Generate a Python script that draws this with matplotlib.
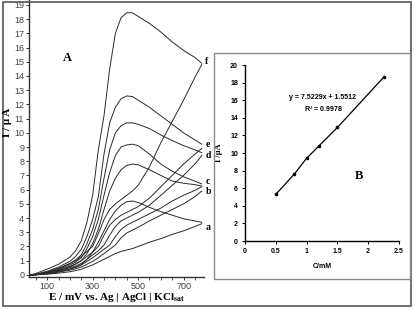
import numpy as np
import matplotlib
matplotlib.use("Agg")
import matplotlib.pyplot as plt
from matplotlib.patches import Rectangle

plt.rcParams['mathtext.fontset'] = 'custom'
plt.rcParams['mathtext.rm'] = 'Liberation Serif:bold'
plt.rcParams['mathtext.it'] = 'Liberation Serif:bold'
plt.rcParams['mathtext.bf'] = 'Liberation Serif:bold'

# panel A: potential (mV) and currents (uA), peaked curves and rising curves a-f
E = [25, 50, 100, 150, 200, 225, 250, 275, 300, 325, 350, 375, 400, 425, 450, 475, 500,
     550, 600, 650, 700, 750, 780]
peak_f = [0, 0.1, 0.4, 0.75, 1.25, 1.7, 2.4, 3.7, 5.6, 8.8, 11.2, 14.5, 17.0, 18.1, 18.45, 18.45, 18.2, 17.7, 17.1, 16.4, 15.8, 15.3, 14.9]
peak_e = [0, 0.05, 0.25, 0.55, 0.95, 1.3, 1.8, 2.7, 3.9, 5.5, 8.5, 10.7, 11.8, 12.4, 12.6, 12.55, 12.3, 11.8, 11.2, 10.6, 10.0, 9.5, 9.2]
peak_d = [0, 0.03, 0.2, 0.45, 0.8, 1.05, 1.4, 2.2, 3.2, 4.6, 6.8, 8.8, 10.0, 10.5, 10.7, 10.7, 10.6, 10.3, 9.85, 9.45, 9.1, 8.8, 8.6]
peak_c = [0, 0.02, 0.15, 0.4, 0.7, 0.9, 1.2, 1.85, 2.7, 3.9, 5.6, 7.2, 8.4, 9.0, 9.15, 9.2, 9.1, 8.5, 7.8, 7.3, 6.9, 6.6, 6.4]
peak_b = [0, 0.02, 0.12, 0.3, 0.55, 0.75, 1.0, 1.5, 2.2, 3.2, 4.6, 5.9, 6.8, 7.4, 7.7, 7.8, 7.75, 7.4, 7.0, 6.6, 6.45, 6.35, 6.25]
peak_a = [0, 0.01, 0.08, 0.2, 0.4, 0.52, 0.7, 1.1, 1.6, 2.3, 3.1, 3.9, 4.5, 4.9, 5.15, 5.2, 5.1, 4.75, 4.45, 4.2, 3.95, 3.8, 3.7]

rise_f = [0, 0.03, 0.2, 0.45, 0.8, 1.0, 1.3, 1.65, 2.0, 2.9, 3.9, 4.6, 5.0, 5.3, 5.6, 5.9, 6.3, 7.6, 9.3, 10.8, 12.3, 13.9, 14.8]
rise_e = [0, 0.02, 0.15, 0.35, 0.6, 0.78, 1.0, 1.3, 1.6, 2.0, 2.8, 3.5, 3.9, 4.2, 4.4, 4.6, 4.8, 5.4, 6.2, 7.0, 7.8, 8.5, 8.9]
rise_d = [0, 0.02, 0.12, 0.3, 0.5, 0.62, 0.8, 1.1, 1.4, 1.7, 2.1, 2.8, 3.4, 3.8, 4.0, 4.2, 4.4, 4.9, 5.6, 6.3, 7.0, 7.8, 8.4]
rise_c = [0, 0.01, 0.1, 0.25, 0.42, 0.55, 0.7, 0.95, 1.2, 1.5, 1.8, 2.1, 2.7, 3.2, 3.5, 3.7, 3.9, 4.3, 4.7, 5.2, 5.6, 5.95, 6.2]
rise_b = [0, 0.01, 0.08, 0.2, 0.33, 0.43, 0.55, 0.75, 0.95, 1.2, 1.5, 1.8, 2.1, 2.6, 2.95, 3.15, 3.35, 3.8, 4.2, 4.6, 5.0, 5.5, 5.9]
rise_a = [0, 0.0, 0.05, 0.12, 0.22, 0.3, 0.4, 0.55, 0.7, 0.9, 1.1, 1.3, 1.5, 1.65, 1.75, 1.85, 2.0, 2.3, 2.55, 2.85, 3.1, 3.4, 3.6]

curve_labels = ["a", "b", "c", "d", "e", "f"]
label_y = [3.3, 5.85, 6.6, 8.4, 9.15, 15.0]

# panel B: calibration
conc = [0.5, 0.8, 1.0, 1.2, 1.5, 2.25]
current = [5.3, 7.6, 9.4, 10.8, 12.9, 18.6]

W, H = 415, 310
fig = plt.figure(figsize=(W / 100, H / 100), dpi=100)
fig.patch.set_facecolor("white")

def box(x0, y0, x1, y1):
    # pixel box -> figure fraction
    return [x0 / W, (H - y1) / H, (x1 - x0) / W, (y1 - y0) / H]

fig.add_artist(Rectangle((3 / W, 4 / H), 408 / W, 304 / H, transform=fig.transFigure,
                         fill=False, edgecolor="#555555", lw=1.2))

ax = fig.add_axes(box(29, 0, 204, 277))
line_col = "#2a2a2a"
for y in [peak_a, peak_b, peak_c, peak_d, peak_e, peak_f,
          rise_a, rise_b, rise_c, rise_d, rise_e, rise_f]:
    ax.plot(E, y, color=line_col, lw=0.7)

ax.set_xlim(20, 790)
ax.set_ylim(-0.15, 19.35)
ax.set_yticks(range(0, 20))
ax.set_xticks([100, 300, 500, 700])
ax.set_xticks(range(50, 800, 50), minor=True)
for s in ["top", "right"]:
    ax.spines[s].set_visible(False)
for s in ["left", "bottom"]:
    ax.spines[s].set_color("#333333")
    ax.spines[s].set_linewidth(1.0)
ax.tick_params(axis="both", which="major", length=2, width=0.7, colors="#333333",
               labelsize=6.5, pad=1.5)
ax.tick_params(axis="x", which="minor", length=2, width=0.6, colors="#333333")
for t in ax.get_xticklabels() + ax.get_yticklabels():
    t.set_fontfamily("Liberation Sans")
    t.set_color("#444444")

for lab, yy in zip(curve_labels, label_y):
    ax.text(796, yy, lab, fontsize=7, fontweight="bold", family="Liberation Serif",
            va="center", ha="left", clip_on=False)
ax.text(191, 15.3, "A", fontsize=9, fontweight="bold", family="Liberation Serif",
        ha="center", va="center")

fig.text(8 / W, 1 - 122 / H, "I / \u03bc A", rotation=90, fontsize=8, fontweight="bold",
         family="Liberation Serif", ha="center", va="center")
fig.text(117 / W, 1 - 297 / H, "E / mV vs. Ag | AgCl | KCl$_{\\rm sat}$", fontsize=8,
         fontweight="bold", family="Liberation Serif", ha="center", va="center")

# inset B
fig.add_artist(Rectangle((214 / W, (H - 279) / H), 196 / W, 226 / H, transform=fig.transFigure,
                         fill=False, edgecolor="#8a8a8a", lw=1.0))
bx = fig.add_axes(box(245, 65, 399, 241))
bx.plot(conc, current, color="black", lw=0.9, marker="o", markersize=1.6)
bx.set_xlim(0, 2.5)
bx.set_ylim(0, 20)
bx.set_xticks([0, 0.5, 1, 1.5, 2, 2.5])
bx.set_xticklabels(["0", "0.5", "1", "1.5", "2", "2.5"])
bx.set_yticks(range(0, 21, 2))
for s in ["top", "right"]:
    bx.spines[s].set_visible(False)
for s in ["left", "bottom"]:
    bx.spines[s].set_linewidth(1.0)
bx.tick_params(axis="both", length=2, width=0.7, labelsize=5, pad=3)
for t in bx.get_xticklabels() + bx.get_yticklabels():
    t.set_fontweight("bold")
    t.set_fontfamily("Liberation Sans")
bx.set_xlabel("C/mM", fontsize=5, fontweight="bold", family="Liberation Sans", labelpad=6)
bx.set_ylabel("I /\u03bcA", fontsize=6, fontweight="bold", family="Liberation Serif", labelpad=5)
bx.text(1.25, 16.3, "y = 7.5229x + 1.5512", fontsize=5, fontweight="bold",
        family="Liberation Sans", ha="center", va="center")
bx.text(1.27, 15.0, "R$^{2}$ = 0.9978", fontsize=5, fontweight="bold",
        family="Liberation Sans", ha="center", va="center")
bx.text(1.85, 7.4, "B", fontsize=9, fontweight="bold", family="Liberation Serif",
        ha="center", va="center")

fig.savefig("out.png", dpi=100)
